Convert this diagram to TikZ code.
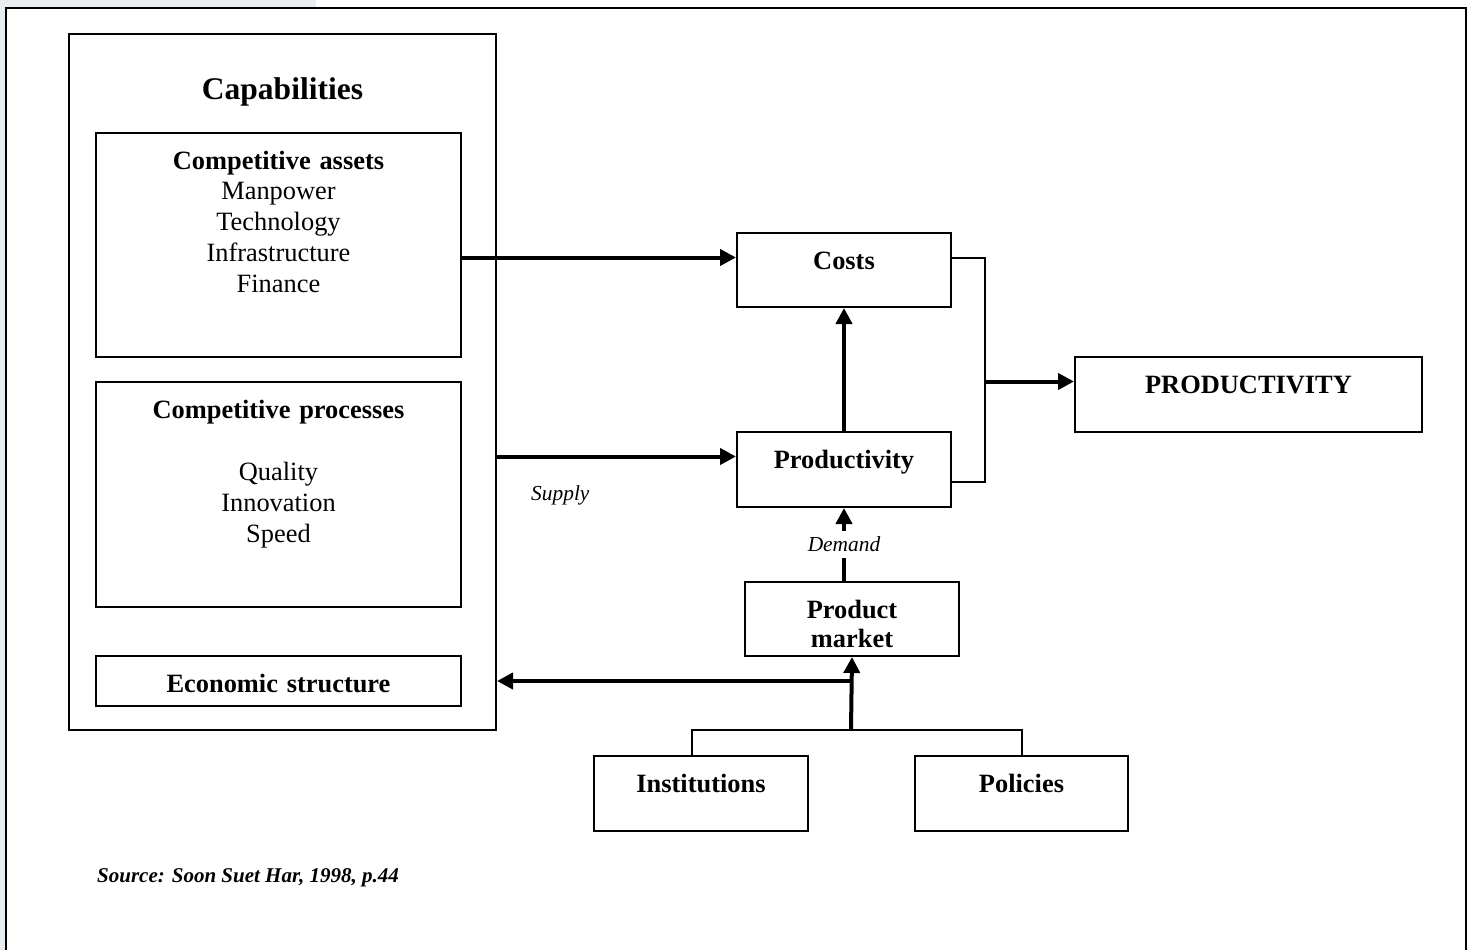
\documentclass[tikz,border=0pt]{standalone}
\usepackage{fontspec}
\setmainfont{Liberation Serif}
\usetikzlibrary{arrows.meta}

\definecolor{pagegrey}{RGB}{232,237,241}

\begin{document}
\begin{tikzpicture}[x=1pt, y=-1pt,
    wbox/.style={draw, line width=2pt, inner sep=0pt, anchor=north west,
      align=center, text height=36.5pt, font=\fontsize{26.4}{31}\selectfont},
    link/.style={line width=2pt},
    arr/.style={line width=4pt, -{Triangle[length=16pt,width=16pt]}},
    lbl/.style={font=\fontsize{21.4}{25}\selectfont\itshape}]
    \useasboundingbox (0,0) rectangle (1473,950);
    \fill[pagegrey] (0,0) rectangle (316,8);
    \fill[pagegrey] (0,0) rectangle (6,950);
    \draw[line width=2.5pt] (6,960) -- (6,8) -- (1466,8) -- (1466,960);

    % left column
    \node[wbox, text width=427pt, text height=65.5pt, text depth=630.5pt,
      font=\fontsize{31.5}{36}\selectfont\bfseries] (caps) at (68,33) {Capabilities};
    \node[wbox, text width=365pt, text depth=187.5pt] (assets) at (95,132)
      {\textbf{Competitive assets}\\[-1pt] Manpower\\ Technology\\ Infrastructure\\ Finance};
    \node[wbox, text width=365pt, text depth=188.5pt] (procs) at (95,381)
      {\textbf{Competitive processes}\\[31pt] Quality\\ Innovation\\ Speed};
    \node[wbox, text width=365pt, text depth=13.5pt, font=\fontsize{26.4}{31}\selectfont\bfseries] (econ) at (95,655) {Economic structure};

    % right part
    \node[wbox, text width=214pt, text depth=37.5pt, font=\fontsize{26.4}{31}\selectfont\bfseries] (costs) at (736,232) {Costs};
    \node[wbox, text width=214pt, text depth=38.5pt, font=\fontsize{26.4}{31}\selectfont\bfseries] (prod) at (736,431) {Productivity};
    \node[wbox, text width=347pt, text depth=38.5pt, font=\fontsize{26.4}{31}\selectfont\bfseries] (big) at (1074,356) {PRODUCTIVITY};
    \node[wbox, text width=214pt, text depth=37.5pt, font=\fontsize{26.4}{29}\selectfont\bfseries] (market) at (744,581) {Product\\ market};
    \node[wbox, text width=214pt, text depth=38.5pt, font=\fontsize{26.4}{31}\selectfont\bfseries] (inst) at (593,755) {Institutions};
    \node[wbox, text width=213pt, text depth=38.5pt, font=\fontsize{26.4}{31}\selectfont\bfseries] (pol) at (914,755) {Policies};

    \coordinate (cin) at ([yshift=12pt]costs.base west);
    \coordinate (pin) at ([yshift=12pt]prod.base west);
    \coordinate (pout) at ([yshift=-13pt]prod.base east);
    \coordinate (bigin) at ([yshift=12pt]big.base west);
    \coordinate (merge) at (985,0);
    \coordinate (fork) at (851,730);
    \coordinate (tap) at (851,681);

    \draw[arr] (assets.east |- cin) -- (cin);
    \draw[arr] (caps.east |- pin) -- (pin);
    \draw[arr] (prod.north) -- (costs.south);
    \draw[arr] (prod.south |- market.north) -- node[lbl, fill=white, inner sep=6pt] {Demand} (prod.south);
    \node[lbl, anchor=west, inner sep=0pt] (supply) at (531,495) {Supply};

    \draw[link] (costs.east |- cin) -- (merge |- cin) -- (merge |- pout) -- (pout);
    \draw[arr] (merge |- bigin) -- (bigin);

    \draw[arr] (fork) -- (market.south);
    \draw[arr] (tap) -- (tap -| caps.east);
    \draw[link] ([xshift=-9pt]inst.north) |- (fork) -| (pol.north);

    \node[anchor=west, inner sep=0pt, font=\fontsize{21}{25}\selectfont\bfseries\itshape] (source) at (97,878)
      {Source: Soon Suet Har, 1998, p.44};
\end{tikzpicture}
\end{document}
